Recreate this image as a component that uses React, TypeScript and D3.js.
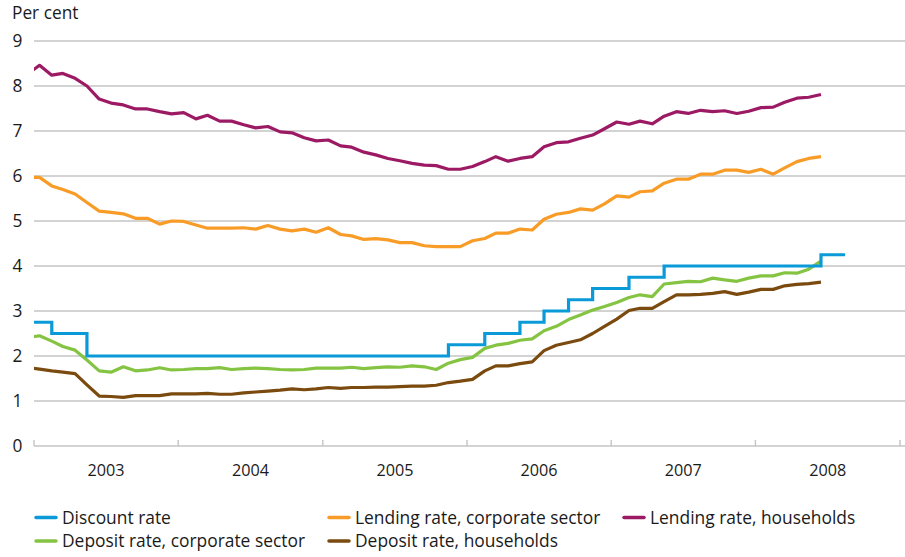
import React from "react";
import * as d3 from "d3";

// Monthly observations, Dec 2002 – Jun 2008 (plotted at mid-month)
const lendingHouseholds = [
  8.26,
  8.46, 8.24, 8.28, 8.17, 8.0, 7.71, 7.62, 7.58, 7.49, 7.49, 7.43, 7.38,
  7.41, 7.27, 7.35, 7.22, 7.22, 7.14, 7.07, 7.1, 6.98, 6.96, 6.85, 6.78,
  6.8, 6.67, 6.64, 6.53, 6.47, 6.39, 6.34, 6.28, 6.24, 6.23, 6.15, 6.15,
  6.21, 6.32, 6.43, 6.33, 6.39, 6.43, 6.65, 6.74, 6.76, 6.84, 6.91, 7.05,
  7.2, 7.15, 7.22, 7.16, 7.33, 7.43, 7.39, 7.46, 7.43, 7.45, 7.39, 7.44,
  7.52, 7.53, 7.64, 7.73, 7.75, 7.81,
];
const lendingCorporate = [
  5.97,
  5.97, 5.78, 5.7, 5.6, 5.41, 5.22, 5.19, 5.16, 5.06, 5.06, 4.93, 5.0,
  4.99, 4.91, 4.84, 4.84, 4.84, 4.85, 4.82, 4.9, 4.82, 4.78, 4.82, 4.75,
  4.85, 4.7, 4.67, 4.59, 4.61, 4.58, 4.52, 4.52, 4.45, 4.43, 4.43, 4.43,
  4.56, 4.61, 4.73, 4.73, 4.82, 4.8, 5.04, 5.15, 5.19, 5.27, 5.24, 5.38,
  5.56, 5.53, 5.65, 5.67, 5.84, 5.93, 5.93, 6.04, 6.04, 6.13, 6.13, 6.08,
  6.15, 6.04, 6.18, 6.32, 6.39, 6.43,
];
const depositCorporate = [
  2.41,
  2.45, 2.33, 2.21, 2.13, 1.91, 1.67, 1.64, 1.76, 1.67, 1.69, 1.74, 1.69,
  1.7, 1.72, 1.72, 1.74, 1.7, 1.72, 1.73, 1.72, 1.7, 1.69, 1.7, 1.73,
  1.73, 1.73, 1.75, 1.72, 1.74, 1.76, 1.75, 1.78, 1.76, 1.7, 1.84, 1.92,
  1.97, 2.17, 2.24, 2.28, 2.35, 2.38, 2.56, 2.66, 2.81, 2.91, 3.02, 3.1,
  3.19, 3.3, 3.36, 3.32, 3.6, 3.63, 3.66, 3.65, 3.73, 3.69, 3.66, 3.73,
  3.78, 3.78, 3.85, 3.84, 3.93, 4.11,
];
const depositHouseholds = [
  1.74,
  1.71, 1.67, 1.64, 1.61, 1.36, 1.11, 1.1, 1.08, 1.12, 1.12, 1.12, 1.16,
  1.16, 1.16, 1.17, 1.15, 1.15, 1.18, 1.2, 1.22, 1.24, 1.27, 1.25, 1.27,
  1.3, 1.28, 1.3, 1.3, 1.31, 1.31, 1.32, 1.33, 1.33, 1.35, 1.41, 1.44,
  1.48, 1.67, 1.78, 1.78, 1.83, 1.87, 2.12, 2.24, 2.3, 2.36, 2.5, 2.66,
  2.82, 3.01, 3.06, 3.06, 3.21, 3.36, 3.36, 3.37, 3.39, 3.43, 3.37, 3.42,
  3.48, 3.48, 3.56, 3.59, 3.61, 3.64,
];

// Discount rate: step changes (date from which value applies)
const discountDates = [
  "2002-12-15", "2003-02-15", "2003-05-15", "2005-11-15", "2006-02-15",
  "2006-05-15", "2006-07-15", "2006-09-15", "2006-11-15", "2007-02-15",
  "2007-05-15", "2008-06-15", "2008-08-15",
];
const discountValues = [2.75, 2.5, 2.0, 2.25, 2.5, 2.75, 3.0, 3.25, 3.5, 3.75, 4.0, 4.25, 4.25];

const yTicks = [0, 1, 2, 3, 4, 5, 6, 7, 8, 9];
const yearBounds = [2003, 2004, 2005, 2006, 2007, 2008, 2009];
const yearLabels = ["2003", "2004", "2005", "2006", "2007", "2008"];

const seriesNames = [
  "Discount rate",
  "Lending rate, corporate sector",
  "Lending rate, households",
  "Deposit rate, corporate sector",
  "Deposit rate, households",
];
const seriesColors = ["#0a9ad8", "#f89c27", "#9c1a64", "#85c443", "#7a4a0e"];

const W = 905;
const H = 557;
const FONT = "'Open Sans', 'DejaVu Sans', sans-serif";

function parseDate(s: string) {
  const [yy, mm, dd] = s.split("-").map(Number);
  return new Date(yy, mm - 1, dd);
}

export default function App() {
  const x = d3
    .scaleTime()
    .domain([new Date(2003, 0, 1), new Date(2009, 0, 1)])
    .range([34, 900]);
  const y = d3.scaleLinear().domain([0, 9]).range([446, 41]);

  const months = lendingHouseholds.map((_, i) => new Date(2002, 11 + i, 15));

  const line = d3
    .line<[Date, number]>()
    .x((d) => x(d[0]))
    .y((d) => y(d[1]));
  const stepLine = d3
    .line<[Date, number]>()
    .x((d) => x(d[0]))
    .y((d) => y(d[1]))
    .curve(d3.curveStepAfter);

  const toPts = (vals: number[]) => vals.map((v, i) => [months[i], v] as [Date, number]);
  const discountPts = discountDates.map((d, i) => [parseDate(d), discountValues[i]] as [Date, number]);

  const monthly = [
    { vals: lendingHouseholds, color: seriesColors[2] },
    { vals: lendingCorporate, color: seriesColors[1] },
    { vals: depositCorporate, color: seriesColors[3] },
    { vals: depositHouseholds, color: seriesColors[4] },
  ];

  const legendCols = [34, 327, 622];
  const legendRows = [517.5, 541];
  const legendPos = [
    [0, 0],
    [1, 0],
    [2, 0],
    [0, 1],
    [1, 1],
  ];

  return (
    <svg
      width={W}
      height={H}
      style={{ position: "absolute", left: 0, top: 0, display: "block", background: "#fff" }}
      fontFamily={FONT}
    >
      <defs>
        <clipPath id="plotclip">
          <rect x={34} y={0} width={W - 34} height={460} />
        </clipPath>
      </defs>

      <text x={12} y={18.5} fontSize={17.3} fill="#1a1a1a">
        Per cent
      </text>

      {/* gridlines */}
      {yTicks.map((t) => (
        <line key={t} x1={34} x2={W} y1={y(t)} y2={y(t)} stroke="#c4c4c4" strokeWidth={1.4} />
      ))}
      {yTicks.map((t) => (
        <text
          key={"l" + t}
          x={22.5}
          y={y(t)}
          dy="0.36em"
          textAnchor="end"
          fontSize={17.3}
          fill="#1a1a1a"
        >
          {t}
        </text>
      ))}

      {/* x ticks (inside, upwards) */}
      {yearBounds.map((yr) => {
        const xx = x(new Date(yr, 0, 1));
        return <line key={yr} x1={xx} x2={xx} y1={446} y2={440} stroke="#c4c4c4" strokeWidth={1.4} />;
      })}
      {yearLabels.map((lab, i) => {
        const xx = (x(new Date(yearBounds[i], 0, 1)) + x(new Date(yearBounds[i + 1], 0, 1))) / 2;
        return (
          <text key={lab} x={xx} y={476} textAnchor="middle" fontSize={16.2} fill="#1a1a1a">
            {lab}
          </text>
        );
      })}

      <g clipPath="url(#plotclip)" fill="none">
        {monthly.map((s, i) => (
          <path
            key={i}
            d={line(toPts(s.vals)) || ""}
            stroke={s.color}
            strokeWidth={3.2}
            strokeLinejoin="round"
          />
        ))}
        <path
          d={stepLine(discountPts) || ""}
          stroke={seriesColors[0]}
          strokeWidth={3.2}
          strokeLinejoin="miter"
        />
      </g>

      {/* legend */}
      {seriesNames.map((name, i) => {
        const [c, r] = legendPos[i];
        const lx = legendCols[c];
        const ly = legendRows[r];
        return (
          <g key={name}>
            <line
              x1={lx + 2}
              x2={lx + 22}
              y1={ly}
              y2={ly}
              stroke={seriesColors[i]}
              strokeWidth={3.5}
              strokeLinecap="round"
            />
            <text x={lx + 28} y={ly} dy="0.35em" fontSize={17.4} fill="#1a1a1a">
              {name}
            </text>
          </g>
        );
      })}
    </svg>
  );
}
